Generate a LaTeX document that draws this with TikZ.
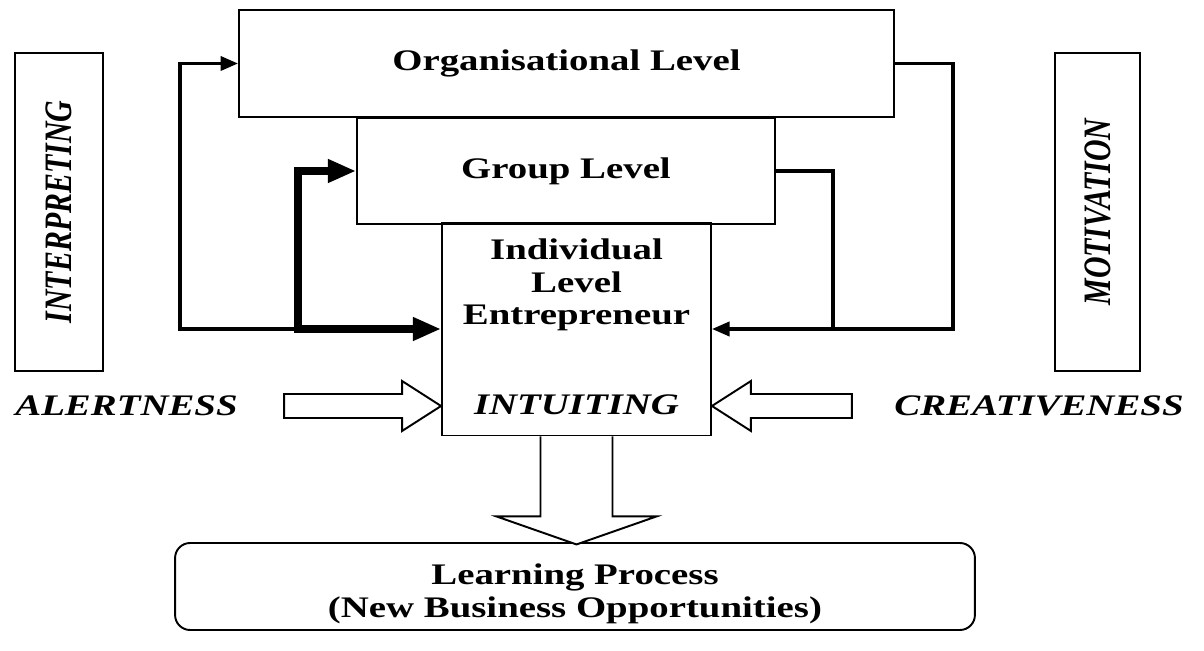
\documentclass[tikz,border=0pt]{standalone}
\usepackage{graphicx}
\usepackage{fontspec}
\setmainfont{Liberation Serif}[FakeStretch=1.3]
\newfontfamily\rotfont{Liberation Serif}
\usetikzlibrary{arrows.meta}
\tikzset{
  box/.style={draw, line width=1.1pt, inner sep=0pt, font=\fontsize{17}{18.5}\selectfont\bfseries},
  lbl/.style={inner sep=0pt, font=\fontsize{17}{18.5}\selectfont\bfseries\itshape},
  sidebox/.style={draw, line width=1.1pt, rotate=90, inner sep=0pt,
    font=\rotfont\fontsize{17}{18.5}\selectfont\bfseries\itshape},
  fb/.style={line width=2pt, -{Triangle[length=10pt,width=8pt]}},
  fbthick/.style={line width=4.5pt, {Triangle[length=16pt,width=12.5pt]}-{Triangle[length=16pt,width=12.5pt]}},
  blockarrow/.style={draw, line width=1.1pt, fill=white, line join=miter}
}
\begin{document}
\begin{tikzpicture}[x=0.02cm, y=-0.02cm]
\useasboundingbox (0,0) rectangle (1204,651);
% the three levels
\node[box, minimum width=13.1cm, minimum height=2.14cm] (org) at (566.5,63.5) {Organisational Level};
\node[box, minimum width=8.36cm, minimum height=2.12cm] (grp) at (566,171) {Group Level};
\node[box, minimum width=5.38cm, minimum height=4.26cm] (ind) at (576.5,329) {};
\node[box, draw=none, align=center] (indtxt) at (576.5,285) {Individual\\Level\\Entrepreneur};
\node[lbl] (intu) at (576.5,405) {INTUITING};
% side boxes
\node[sidebox, minimum width=6.36cm, minimum height=1.76cm] (intp) at (59,212) {\scalebox{1}[1.3]{INTERPRETING}};
\node[sidebox, minimum width=6.36cm, minimum height=1.7cm] (motv) at (1097.5,212) {\scalebox{1}[1.3]{MOTIVATION}};
\node[lbl] (alert) at (126.5,406) {ALERTNESS};
\node[lbl] (crea) at (1039,406) {CREATIVENESS};
% learning process
\node[box, rounded corners=0.3cm, minimum width=16cm, minimum height=1.74cm] (lp) at (575,586.5) {};
\node[box, draw=none, align=center] (lptxt) at (575,594) {Learning Process\\(New Business Opportunities)};
% feedback lines
\coordinate (lo) at (180,329);
\coordinate (li) at (298,329);
\coordinate (ri) at (833,329);
\coordinate (ro) at (953,329);
\draw[fb] (li) -- (lo) |- (org.west);
\draw[fbthick] (grp.west) -| (li) -- (ind.west);
\draw[fb] (org.east) -| (ro) -- (ind.east);
\draw[line width=2pt] (grp.east) -| (ri);
% block arrows
\draw[blockarrow] (ind.west |- alert) -- ++(-39,-25) -- ++(0,13) -- ++(-118,0) -- ++(0,24) -- ++(118,0) -- ++(0,13) -- cycle;
\draw[blockarrow] (ind.east |- crea) -- ++(39,-25) -- ++(0,13) -- ++(101,0) -- ++(0,24) -- ++(-101,0) -- ++(0,13) -- cycle;
\draw[blockarrow] (ind.south) ++(-36,0) -- ++(0,80) -- ++(-44,0) -- ++(80,28) -- ++(80,-28) -- ++(-44,0) -- ++(0,-80);
\end{tikzpicture}
\end{document}
